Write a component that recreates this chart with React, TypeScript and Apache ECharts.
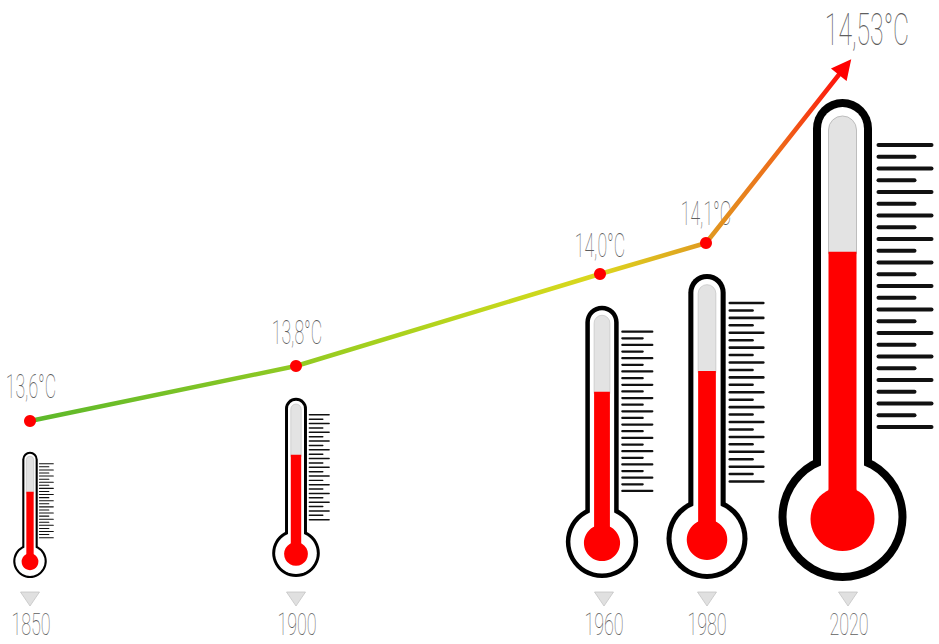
import React, { useEffect, useRef } from "react";
import * as echarts from "echarts";

// ---- data ----
const years = ["1850", "1900", "1960", "1980", "2020"];
const temperatures = [13.6, 13.8, 14.0, 14.1, 14.53];
const temperatureLabels = ["13,6°C", "13,8°C", "14,0°C", "14,1°C", "14,53°C"];
const mercuryFill = [0.683, 0.682, 0.684, 0.682, 0.683];

// ---- layout of the infographic (its axes are hand spaced, not linear) ----
const FONT = "Roboto";
const yearX: Record<string, number> = { "1850": 30, "1900": 296, "1960": 600, "1980": 706, "2020": 845 };
const tempY: Record<string, number> = { "13.6": 421, "13.8": 366, "14": 274, "14.1": 243, "14.53": 67 };
const thermoScale = [0.262, 0.372, 0.565, 0.633, 1];
const thermoX = [30, 296, 602, 707, 842.5];
const thermoBottom = [578, 577, 578, 579, 581];
const markerX = [30, 296, 604, 707, 848];
const labelOffset = [[1, -34], [1, -33], [0, -28], [0, -29], [22, -37]];
const labelSize = [34, 34, 34, 34, 45];
const labelScale = [0.52, 0.52, 0.52, 0.52, 0.55];
const yearLabelX = [31, 297, 604, 707, 849];

const pointsData = years.map((y, i) => [yearX[y], tempY[String(temperatures[i])]]);
const idx = years.map((_, i) => [i, i]);

function renderThermometer(params: any, api: any) {
  const i = params.dataIndex;
  const s = thermoScale[i];
  const [cx, bottom] = api.coord([thermoX[i], thermoBottom[i]]);
  const R = 64 * s;
  const cy = bottom - R;
  const top = bottom - 482 * s;
  const tubeW = 59 * s;
  const bw = 8 * s;
  const innerW = tubeW - 2 * bw;
  const glassW = 28 * s;
  const glassTop = top + 17 * s;
  const redTop = top + (1 - mercuryFill[i]) * 482 * s;
  const children: any[] = [
    { type: "rect", shape: { x: cx - tubeW / 2, y: top, width: tubeW, height: cy - top, r: [tubeW / 2, tubeW / 2, 0, 0] }, style: { fill: "#000" } },
    { type: "circle", shape: { cx, cy, r: R }, style: { fill: "#000" } },
    { type: "circle", shape: { cx, cy, r: R - bw }, style: { fill: "#fff" } },
    { type: "rect", shape: { x: cx - innerW / 2, y: top + bw, width: innerW, height: cy - top - bw, r: [innerW / 2, innerW / 2, 0, 0] }, style: { fill: "#fff" } },
    { type: "rect", shape: { x: cx - glassW / 2, y: glassTop, width: glassW, height: redTop - glassTop + 2, r: [glassW / 2, glassW / 2, 0, 0] }, style: { fill: "#e3e3e3", stroke: "#bdbdbd", lineWidth: Math.max(0.6, s) } },
    { type: "rect", shape: { x: cx - glassW / 2, y: redTop, width: glassW, height: cy - redTop }, style: { fill: "#ff0000" } },
    { type: "circle", shape: { cx, cy: cy + 2 * s, r: 32 * s }, style: { fill: "#ff0000" } },
  ];
  for (let k = 0; k < 25; k++) {
    const y = top + (46 + k * 11.75) * s;
    const x1 = cx + 36 * s;
    const len = k % 2 === 0 ? 53 * s : 36 * s;
    children.push({
      type: "line",
      shape: { x1, y1: y, x2: x1 + len, y2: y },
      style: { stroke: "#111", lineWidth: Math.max(0.9, 4 * s), lineCap: "round" },
    });
  }
  return { type: "group", children };
}

function renderLabels(params: any, api: any) {
  const i = params.dataIndex;
  const [x, y] = api.coord(pointsData[i]);
  return {
    type: "text",
    x: x + labelOffset[i][0],
    y: y + labelOffset[i][1],
    scaleX: labelScale[i],
    style: {
      text: temperatureLabels[i],
      x: 0,
      y: 0,
      fill: "#5e5e5e",
      font: `100 ${labelSize[i]}px ${FONT}`,
      align: "center",
      verticalAlign: "middle",
    },
  };
}

function renderYears(params: any, api: any) {
  const i = params.dataIndex;
  const [mx, my] = api.coord([markerX[i], 592]);
  const [lx] = api.coord([yearLabelX[i], 592]);
  return {
    type: "group",
    children: [
      {
        type: "polygon",
        shape: { points: [[mx - 9.5, my], [mx + 9.5, my], [mx, my + 14]] },
        style: { fill: "#e0e0e0", stroke: "#c4c4c4", lineWidth: 0.8 },
      },
      {
        type: "text",
        x: lx,
        y: my + 32,
        scaleX: 0.56,
        style: {
          text: years[i],
          x: 0,
          y: 0,
          fill: "#5e5e5e",
          font: `100 32px ${FONT}`,
          align: "center",
          verticalAlign: "middle",
        },
      },
    ],
  };
}

export default function App() {
  const ref = useRef<HTMLDivElement>(null);
  useEffect(() => {
    const chart = echarts.init(ref.current!, undefined, { renderer: "svg" });
    chart.setOption({
      animation: false,
      backgroundColor: "#fff",
      grid: { left: 0, right: 0, top: 0, bottom: 0 },
      xAxis: { type: "value", min: 0, max: 939, show: false },
      yAxis: { type: "value", min: 0, max: 644, inverse: true, show: false },
      series: [
        { type: "custom", coordinateSystem: "cartesian2d", data: idx, renderItem: renderThermometer, silent: true, z: 1 },
        { type: "custom", coordinateSystem: "cartesian2d", data: idx, renderItem: renderLabels, silent: true, z: 2 },
        { type: "custom", coordinateSystem: "cartesian2d", data: idx, renderItem: renderYears, silent: true, z: 2 },
        {
          type: "line",
          data: pointsData.map((p, i) =>
            i === pointsData.length - 1
              ? { value: p, symbol: "triangle", symbolSize: 20, symbolRotate: -38.5, itemStyle: { color: "#ff0000" } }
              : { value: p, symbol: "circle", symbolSize: 12, itemStyle: { color: "#ff0000" } }
          ),
          showSymbol: true,
          showAllSymbol: true,
          z: 3,
          silent: true,
          lineStyle: {
            width: 4.5,
            cap: "round",
            color: {
              type: "linear",
              x: 0,
              y: 0,
              x2: 1,
              y2: 0,
              colorStops: [
                { offset: 0, color: "#5cb82a" },
                { offset: 0.3, color: "#8cc824" },
                { offset: 0.42, color: "#a4d01e" },
                { offset: 0.6, color: "#c8d81c" },
                { offset: 0.7, color: "#dcd61e" },
                { offset: 0.83, color: "#e09a20" },
                { offset: 0.92, color: "#ee6a1a" },
                { offset: 1, color: "#ff0a0a" },
              ],
            },
          },
        },
      ],
    });
    return () => chart.dispose();
  }, []);
  return <div ref={ref} style={{ position: "fixed", left: 0, top: 0, width: 939, height: 644 }} />;
}
